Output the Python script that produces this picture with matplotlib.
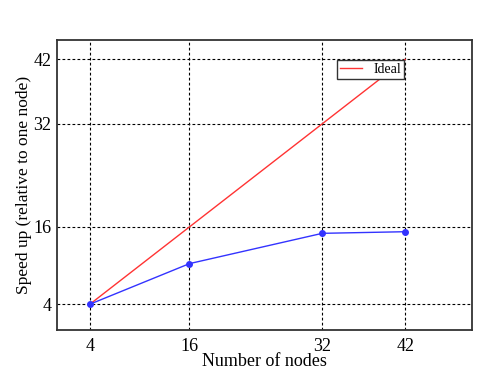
import numpy as np
import matplotlib
matplotlib.use("Agg")
import matplotlib.pyplot as plt

nodes = [4, 16, 32, 42]
ideal = [4, 16, 32, 42]
speedup = [4, 10.3, 15.0, 15.25]
ticks = [4, 16, 32, 42]

plt.rcParams['font.family'] = ['Liberation Serif', 'DejaVu Serif']

fig = plt.figure(figsize=(4.99, 3.77), dpi=100)
ax = fig.add_axes([0.1136, 0.1247, 0.8317, 0.7692])

ax.plot(nodes, ideal, color='#ff3333', linewidth=1.0, label='Ideal')
ax.plot(nodes, speedup, color='#3333ff', linewidth=1.0, marker='o', markersize=4)

ax.set_xlim(0, 50)
ax.set_ylim(0, 45)
ax.set_xticks(ticks)
ax.set_yticks(ticks)
ax.tick_params(axis='x', labelsize=13, length=0, pad=6)
ax.tick_params(axis='y', labelsize=13, length=0, pad=4)
ax.grid(True, color='black', linestyle=(0, (2.5, 2)), linewidth=0.8)
for s in ax.spines.values():
    s.set_linewidth(1.3)
    s.set_color('#333333')

ax.set_xlabel('Number of nodes', fontsize=13, labelpad=-2)
ax.set_ylabel('Speed up (relative to one node)', fontsize=12.5, labelpad=1)

leg = ax.legend(loc='upper right', bbox_to_anchor=(0.837, 0.931), borderaxespad=0,
                fontsize=10, fancybox=False, framealpha=1, handlelength=1.6,
                borderpad=0.2, handletextpad=0.8)
leg.get_frame().set_edgecolor('#333333')
leg.get_frame().set_linewidth(1.0)

fig.savefig('out.png', dpi=100)
